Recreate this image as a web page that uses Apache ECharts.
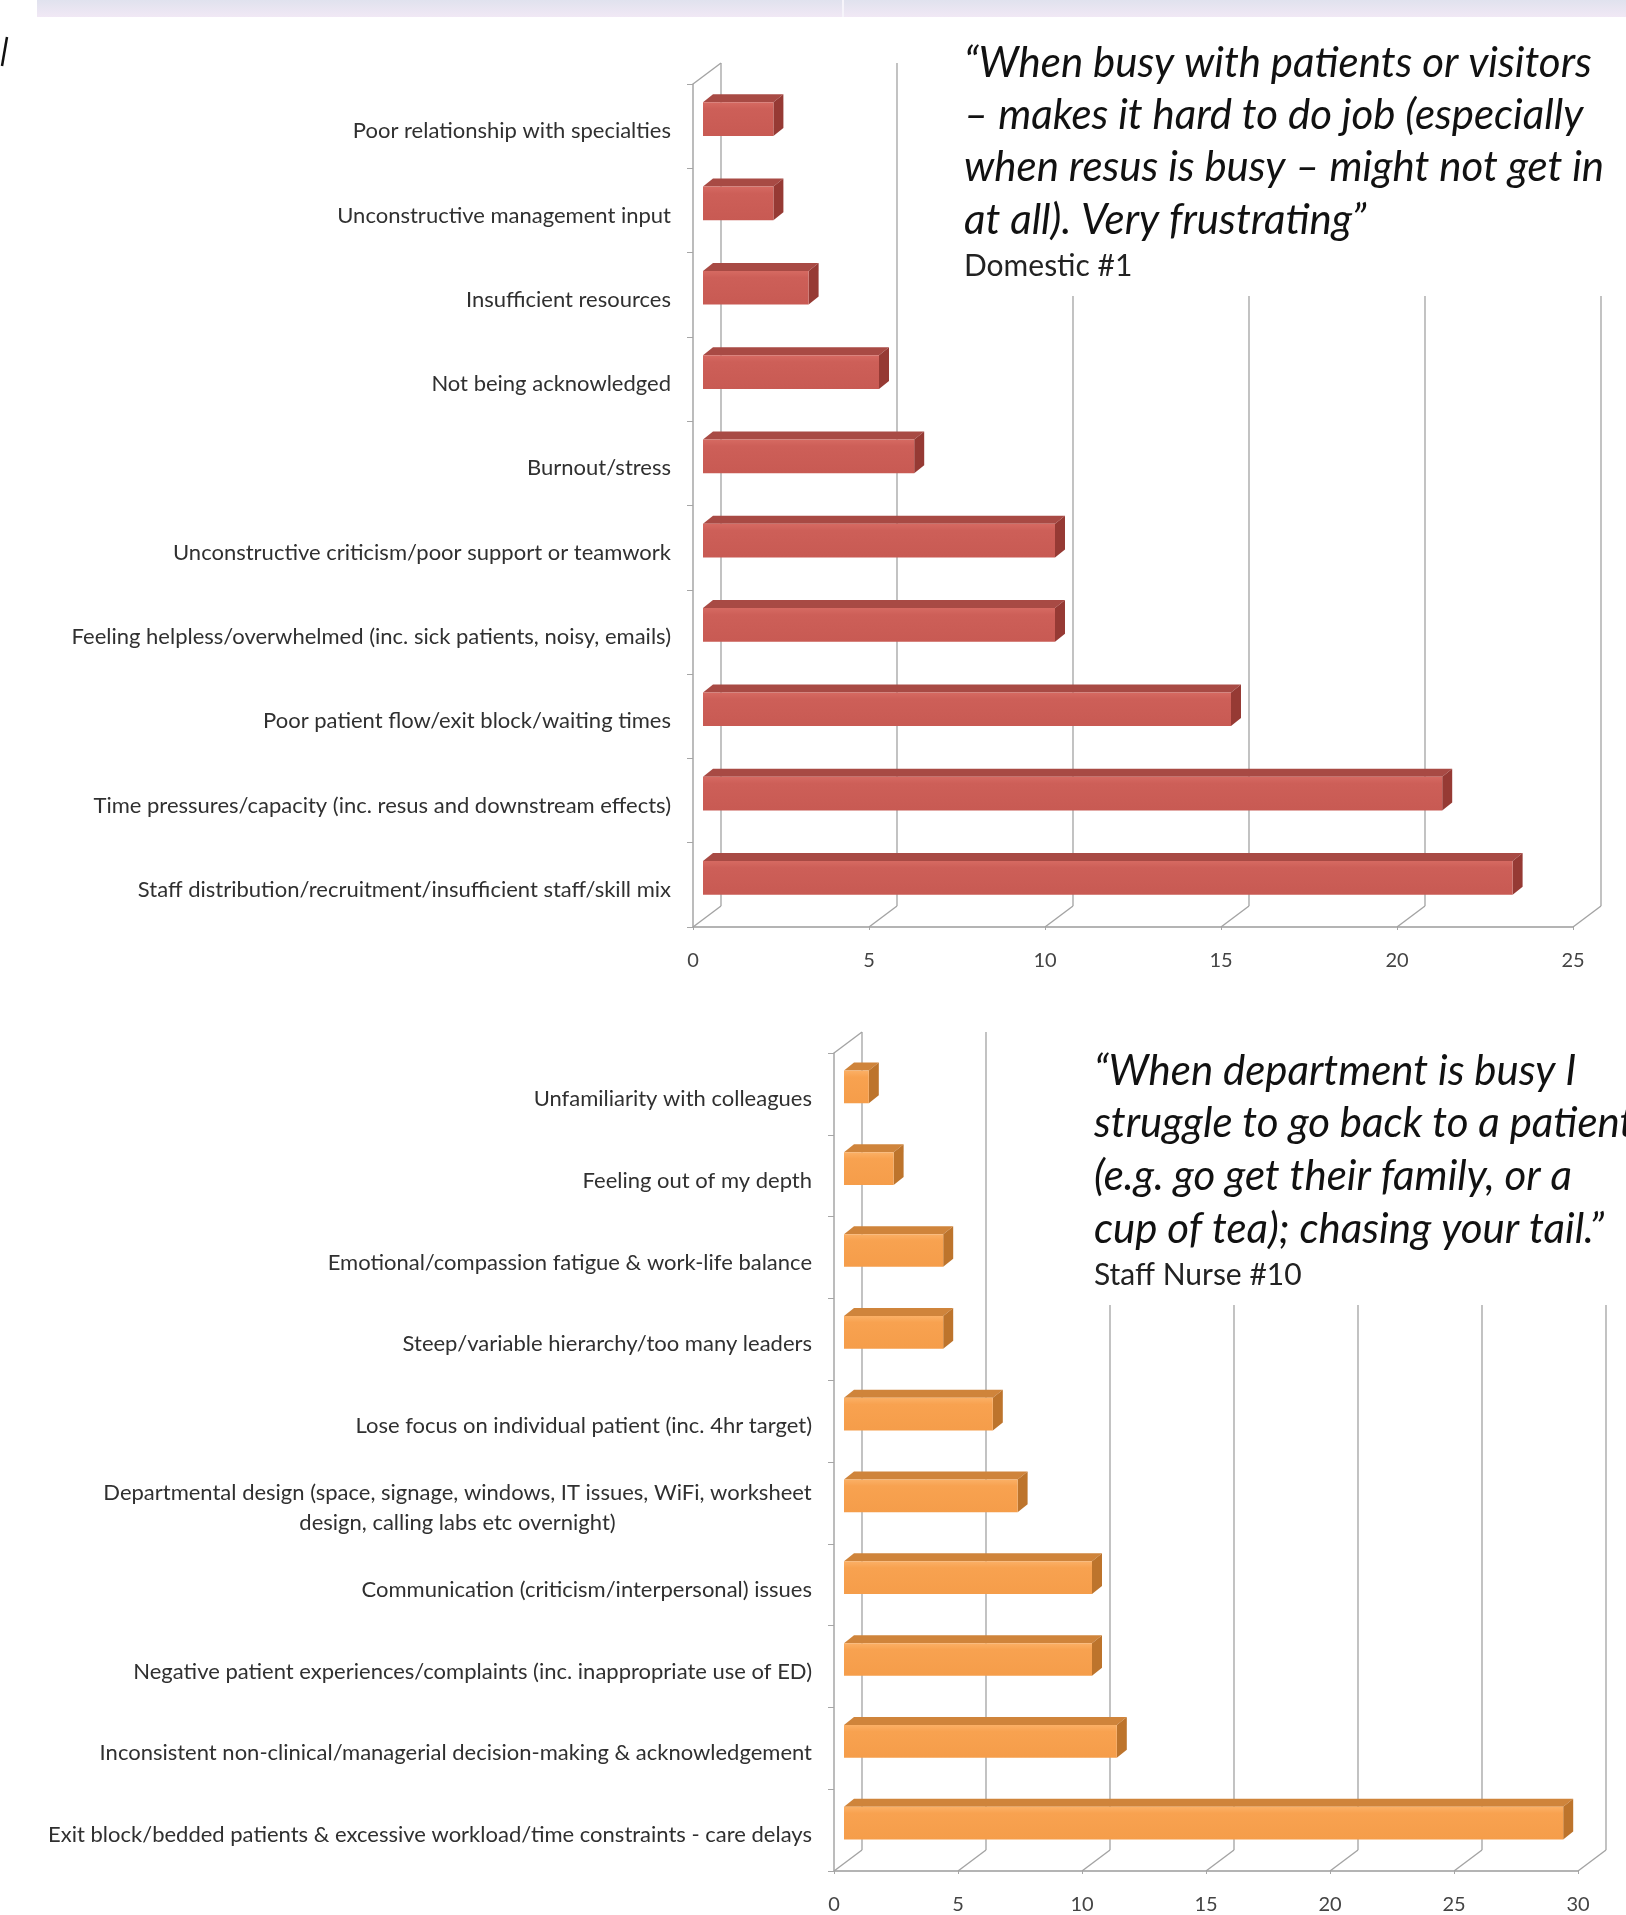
<!DOCTYPE html>
<html><head><meta charset="utf-8">
<script src="https://cdn.jsdelivr.net/npm/echarts@6/dist/echarts.min.js"></script>
<style>html,body{margin:0;padding:0;background:#fff}#c{width:1626px;height:1915px}</style>
</head><body><div id="c"></div>
<script>
const topCategories = [
 'Poor relationship with specialties',
 'Unconstructive management input',
 'Insufficient resources',
 'Not being acknowledged',
 'Burnout/stress',
 'Unconstructive criticism/poor support or teamwork',
 'Feeling helpless/overwhelmed (inc. sick patients, noisy, emails)',
 'Poor patient flow/exit block/waiting times',
 'Time pressures/capacity (inc. resus and downstream effects)',
 'Staff distribution/recruitment/insufficient staff/skill mix'];
const topValues = [2,2,3,5,6,10,10,15,21,23];
const topTicks = [0,5,10,15,20,25];
const bottomCategories = [
 'Unfamiliarity with colleagues',
 'Feeling out of my depth',
 'Emotional/compassion fatigue & work-life balance',
 'Steep/variable hierarchy/too many leaders',
 'Lose focus on individual patient (inc. 4hr target)',
 'Departmental design (space, signage, windows, IT issues, WiFi, worksheet\ndesign, calling labs etc overnight)',
 'Communication (criticism/interpersonal) issues',
 'Negative patient experiences/complaints (inc. inappropriate use of ED)',
 'Inconsistent non-clinical/managerial decision-making & acknowledgement',
 'Exit block/bedded patients & excessive workload/time constraints - care delays'];
const bottomValues = [1,2,4,4,6,7,10,10,11,29];
const bottomTicks = [0,5,10,15,20,25,30];
const topQuote = ['\u201cWhen busy with patients or visitors','\u2013 makes it hard to do job (especially','when resus is busy \u2013 might not get in','at all). Very frustrating\u201d'];
const topAttribution = 'Domestic #1';
const bottomQuote = ['\u201cWhen department is busy I','struggle to go back to a patient','(e.g. go get their family, or a','cup of tea); chasing your tail.\u201d'];
const bottomAttribution = 'Staff Nurse #10';

const FONT = 'Lato, "Open Sans", sans-serif';
const LABEL_SIZE = 22;
const LABEL_COL = '#303030';
const DEPTH = [28, -21];
const GRID_COL = '#a2a2a2';
const RED = {front:['#d66a62','#cd5f58','#c85a53'], top:'#a84a44', side:'#963a34'};
const ORANGE = {front:['#fbb066','#f8a250','#f59d4a'], top:'#cf843b', side:'#bd742c'};

// width of the widest line of the multi-line label (for centring its lines)
const measureCtx = document.createElement('canvas').getContext('2d');
measureCtx.font = LABEL_SIZE + 'px ' + FONT;
function maxLineWidth(s){ return Math.ceil(Math.max.apply(null, s.split('\n').map(l => measureCtx.measureText(l).width))); }
const multiW = Math.max.apply(null, bottomCategories.filter(s => s.indexOf('\n') >= 0).map(maxLineWidth));

function frameItem(params, api){
  const v = api.value(0);
  const cs = params.coordSys;
  const x = api.coord([v, 0])[0];
  const floor = cs.y + cs.height, top = cs.y;
  const st = {stroke: GRID_COL, lineWidth: 1.3};
  const ch = [
    {type:'line', shape:{x1:x, y1:floor, x2:x+DEPTH[0], y2:floor+DEPTH[1]}, style:st},
    {type:'line', shape:{x1:x+DEPTH[0], y1:floor+DEPTH[1], x2:x+DEPTH[0], y2:top+DEPTH[1]}, style:st}
  ];
  if (v === 0) ch.push({type:'line', shape:{x1:x, y1:top, x2:x+DEPTH[0], y2:top+DEPTH[1]}, style:st});
  return {type:'group', children: ch};
}
function barItem(col){
  return function(params, api){
    const v = api.value(0), c = api.value(1);
    const p0 = api.coord([0, c]), p1 = api.coord([v, c]);
    const band = api.size([0, 1])[1];
    const h = band * 0.40;
    const x1 = p0[0] + 10, x2 = p1[0] + 10;
    const yc = p0[1] - 7;
    const y1 = yc - h/2, y2 = yc + h/2;
    const dx = 10, dy = -8;
    return {type:'group', children:[
      {type:'polygon', shape:{points:[[x1,y1],[x2,y1],[x2+dx,y1+dy],[x1+dx,y1+dy]]}, style:{fill:col.top}},
      {type:'polygon', shape:{points:[[x2,y1],[x2+dx,y1+dy],[x2+dx,y2+dy],[x2,y2]]}, style:{fill:col.side}},
      {type:'rect', shape:{x:x1, y:y1, width:x2-x1, height:h}, style:{fill:{type:'linear',x:0,y:0,x2:0,y2:1,colorStops:[{offset:0,color:col.front[0]},{offset:0.2,color:col.front[1]},{offset:1,color:col.front[2]}]}}}
    ]};
  };
}

function catAxis(gi, data){
  return {type:'category', gridIndex:gi, inverse:true, data:data,
    axisLine:{show:true, lineStyle:{color:'#a6a6a6', width:1.5}},
    axisTick:{show:true, length:6, lineStyle:{color:'#a6a6a6'}},
    axisLabel:{color:LABEL_COL, fontFamily:FONT, fontSize:LABEL_SIZE, margin:22, padding:[10,0,0,0],
      formatter: function(v){ if (v.indexOf('\n') < 0) return v; return v.split('\n').map(s=>'{c|'+s+'}').join('\n'); },
      rich:{c:{width:multiW, align:'center', fontFamily:FONT, fontSize:LABEL_SIZE, color:LABEL_COL, lineHeight:30}}
    }
  };
}
function valAxis(gi, max){
  return {type:'value', gridIndex:gi, min:0, max:max, interval:5,
    axisLine:{show:true, lineStyle:{color:'#b4b4b4', width:2}},
    axisTick:{show:true, length:3, lineStyle:{color:'#a6a6a6'}},
    splitLine:{show:false},
    axisLabel:{color:'#444', fontFamily:FONT, fontSize:20, margin:24}
  };
}

function quoteGraphics(lines, attr, x, ys, ya){
  const g = lines.map((t,i)=>({type:'text', z:101, style:{text:t, x:x, y:ys[i], fill:'#111', font:'italic 42px '+FONT, verticalAlign:'middle'}}));
  g.push({type:'text', z:101, style:{text:attr, x:x, y:ya, fill:'#222', font:'30px '+FONT, verticalAlign:'middle'}});
  return g;
}

const chart = echarts.init(document.getElementById('c'), null, {renderer:'canvas'});
chart.setOption({
  backgroundColor:'#ffffff',
  animation:false,
  grid:[
    {left:693, top:84, width:880, height:843},
    {left:834, top:1053, width:744, height:825}
  ],
  xAxis:[valAxis(0, 25), valAxis(1, 30)],
  yAxis:[catAxis(0, topCategories), catAxis(1, bottomCategories)],
  series:[
    {type:'custom', xAxisIndex:0, yAxisIndex:0, z:1, renderItem:frameItem, data:topTicks.map(v=>[v,0]), silent:true},
    {type:'custom', xAxisIndex:1, yAxisIndex:1, z:1, renderItem:frameItem, data:bottomTicks.map(v=>[v,0]), silent:true},
    {type:'custom', xAxisIndex:0, yAxisIndex:0, z:5, renderItem:barItem(RED), data:topValues.map((v,i)=>[v,i])},
    {type:'custom', xAxisIndex:1, yAxisIndex:1, z:5, renderItem:barItem(ORANGE), data:bottomValues.map((v,i)=>[v,i])}
  ],
  graphic:[
    {type:'rect', z:100, shape:{x:37, y:0, width:1589, height:17}, style:{fill:{type:'linear',x:0,y:0,x2:0,y2:1,colorStops:[{offset:0,color:'#e0e2ee'},{offset:1,color:'#f1e8f5'}]}}},
    {type:'rect', z:100, shape:{x:842, y:0, width:2, height:17}, style:{fill:'#f6f4fa'}},
    {type:'line', z:100, shape:{x1:7, y1:37, x2:2, y2:66}, style:{stroke:'#111', lineWidth:2.5}},
    {type:'rect', z:99, shape:{x:950, y:0, width:676, height:296}, style:{fill:'#ffffff'}},
    {type:'rect', z:99, shape:{x:1082, y:1020, width:544, height:285}, style:{fill:'#ffffff'}}
  ].concat(quoteGraphics(topQuote, topAttribution, 964, [63,115,167,220], 266))
   .concat(quoteGraphics(bottomQuote, bottomAttribution, 1094, [1071,1123,1176,1229], 1275))
});
</script></body></html>
